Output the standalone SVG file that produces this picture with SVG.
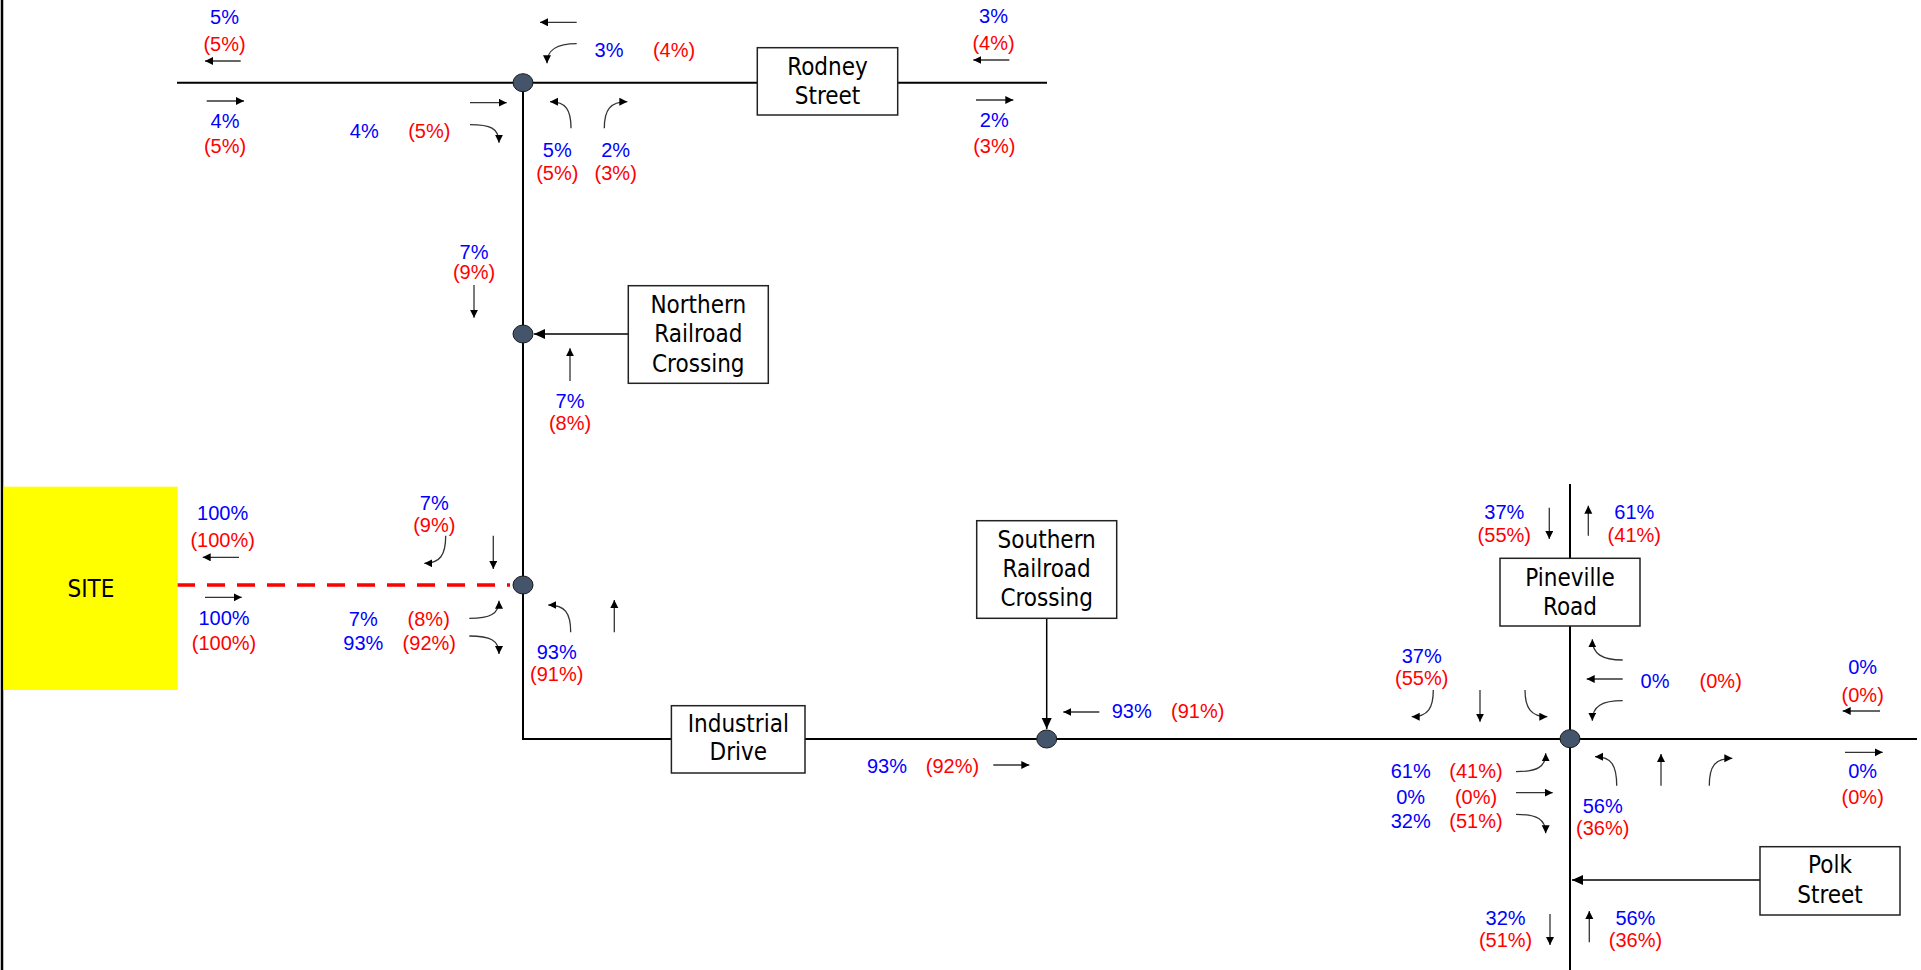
<svg xmlns="http://www.w3.org/2000/svg" width="1921" height="970" viewBox="0 0 1921 970">
<defs>
<style>
.road{stroke:#000;stroke-width:2;fill:none}
.arr{stroke:#333;stroke-width:1.3;fill:none;marker-end:url(#ah)}
.con{stroke:#000;stroke-width:1.5;fill:none;marker-end:url(#ahL)}
.b{fill:#0000FF;font-family:'Liberation Sans',Arial,sans-serif;font-size:20px;text-anchor:middle}
.r{fill:#FF0000;font-family:'Liberation Sans',Arial,sans-serif;font-size:20px;text-anchor:middle}
.box{fill:#fff;stroke:#222;stroke-width:1.5}
.bt{fill:#000;font-family:'DejaVu Sans Condensed','DejaVu Sans',sans-serif;font-stretch:condensed;font-size:24px;text-anchor:middle}
.node{fill:#44546A;stroke:#1a1a1a;stroke-width:1}
</style>
<marker id="ah" markerWidth="9" markerHeight="9" refX="8" refY="4" orient="auto" markerUnits="userSpaceOnUse"><path d="M0,0 L8,4 L0,8 z" fill="#000"/></marker>
<marker id="ahL" markerWidth="12" markerHeight="12" refX="11" refY="5" orient="auto" markerUnits="userSpaceOnUse"><path d="M0,0 L11,5 L0,10 z" fill="#000"/></marker>
</defs>
<rect x="0" y="0" width="1921" height="970" fill="#fff"/>
<line x1="2" y1="0" x2="2" y2="970" stroke="#000" stroke-width="2.5"/>

<g id="connectors">
<path class="road" d="M177,82.7 H1047"/>
<path class="road" d="M523,82.7 V739 H1917"/>
<path class="road" d="M1570,484 V970"/>
<line x1="177" y1="585" x2="510" y2="585" stroke="#FF0000" stroke-width="3.5" stroke-dasharray="18 12"/>
<path class="con" d="M628.3,334 H534"/>
<path class="con" d="M1046.7,618.3 V729"/>
<path class="con" d="M1760,880 H1572"/>
</g>

<g id="rodney-intersection">
<path class="arr" d="M240.7,61 H205"/>
<path class="arr" d="M206.7,101 H244"/>
<path class="arr" d="M470,102.7 H506.7"/>
<path class="arr" d="M470,124.7 C490,124.7 499,128 499,142.7"/>
<path class="arr" d="M576.7,22.3 H540"/>
<path class="arr" d="M576.7,43.7 C556,43.7 547,50 547,63.3"/>
<path class="arr" d="M571,128.3 C571,110 566,101.7 550,101.7"/>
<path class="arr" d="M604.3,128.3 C604.3,110 610,101.7 627.3,101.7"/>
<path class="arr" d="M1009.3,60 H973.3"/>
<path class="arr" d="M976,100 H1013.3"/>
<text class="b" x="224.5" y="24.3">5%</text><text class="r" x="224.5" y="50.7">(5%)</text>
<text class="b" x="225" y="128.3">4%</text><text class="r" x="225" y="153.3">(5%)</text>
<text class="b" x="364.3" y="138.3">4%</text><text class="r" x="429.3" y="138.3">(5%)</text>
<text class="b" x="609" y="57.3">3%</text><text class="r" x="674" y="57.3">(4%)</text>
<text class="b" x="557.3" y="156.7">5%</text><text class="r" x="557.3" y="180">(5%)</text>
<text class="b" x="615.7" y="156.7">2%</text><text class="r" x="615.7" y="180">(3%)</text>
<text class="b" x="993.5" y="22.7">3%</text><text class="r" x="993.5" y="50">(4%)</text>
<text class="b" x="994.3" y="126.7">2%</text><text class="r" x="994.3" y="153.3">(3%)</text>
<ellipse class="node" cx="523" cy="82.7" rx="10" ry="9"/>
</g>

<g id="rodney-street">
<rect class="box" x="757.3" y="47.7" width="140.4" height="67.3"/>
<text class="bt" x="827.5" y="75">Rodney</text><text class="bt" x="827.5" y="104">Street</text>
</g>

<g id="northern-intersection">
<path class="arr" d="M474,285 V317.7"/>
<path class="arr" d="M570,381 V348.3"/>
<text class="b" x="474" y="259">7%</text><text class="r" x="474" y="279.3">(9%)</text>
<text class="b" x="570" y="408.3">7%</text><text class="r" x="570" y="430">(8%)</text>
<ellipse class="node" cx="523" cy="334" rx="10" ry="9"/>
</g>

<g id="northern-railroad-crossing">
<rect class="box" x="628.3" y="285.7" width="140" height="97.6"/>
<text class="bt" x="698.3" y="312.7">Northern</text><text class="bt" x="698.3" y="342.2">Railroad</text><text class="bt" x="698.3" y="371.7">Crossing</text>
</g>

<g id="site">
<rect x="3.5" y="486.7" width="174.2" height="203.3" fill="#FFFF00"/>
<text class="bt" x="91" y="596.7">SITE</text>
</g>

<g id="site-intersection">
<path class="arr" d="M239,557.3 H202.7"/>
<path class="arr" d="M205,597.3 H241.7"/>
<path class="arr" d="M469.3,618.3 C490,618.3 499,614 499,600.7"/>
<path class="arr" d="M469.3,636 C490,636 499,640 499,654"/>
<path class="arr" d="M445.7,535.7 C445.7,555 440,563.3 424.3,563.3"/>
<path class="arr" d="M493.3,535.7 V569"/>
<path class="arr" d="M570.7,632.3 C570.7,613 565,605 548.3,605"/>
<path class="arr" d="M614.3,632.3 V600"/>
<text class="b" x="222.7" y="520">100%</text><text class="r" x="222.7" y="547.3">(100%)</text>
<text class="b" x="224" y="625">100%</text><text class="r" x="224" y="650">(100%)</text>
<text class="b" x="363.3" y="626">7%</text><text class="b" x="363.3" y="650">93%</text>
<text class="r" x="428.7" y="626">(8%)</text><text class="r" x="429.3" y="650">(92%)</text>
<text class="b" x="434.3" y="510">7%</text><text class="r" x="434.3" y="531.7">(9%)</text>
<text class="b" x="556.7" y="659.3">93%</text><text class="r" x="556.7" y="680.7">(91%)</text>
<ellipse class="node" cx="523" cy="585" rx="10" ry="9"/>
</g>

<g id="industrial-drive">
<rect class="box" x="671.4" y="705.7" width="133.6" height="67.3"/>
<text class="bt" x="738.3" y="731.7">Industrial</text><text class="bt" x="738.3" y="760">Drive</text>
</g>

<g id="southern-intersection">
<path class="arr" d="M1099.3,712 H1063.3"/>
<path class="arr" d="M993.3,765 H1029.3"/>
<text class="b" x="1131.7" y="718.3">93%</text><text class="r" x="1197.7" y="718.3">(91%)</text>
<text class="b" x="887" y="772.5">93%</text><text class="r" x="952.5" y="772.5">(92%)</text>
<ellipse class="node" cx="1046.7" cy="739" rx="10" ry="9"/>
</g>

<g id="southern-railroad-crossing">
<rect class="box" x="976.7" y="520.7" width="140" height="97.6"/>
<text class="bt" x="1046.7" y="547.7">Southern</text><text class="bt" x="1046.7" y="576.7">Railroad</text><text class="bt" x="1046.7" y="606">Crossing</text>
</g>

<g id="pineville-road">
<rect class="box" x="1500" y="558.3" width="140" height="67.7"/>
<text class="bt" x="1570" y="586">Pineville</text><text class="bt" x="1570" y="615">Road</text>
</g>

<g id="pineville-intersection">
<path class="arr" d="M1549.3,507.7 V539"/>
<path class="arr" d="M1588.3,535.7 V505.7"/>
<text class="b" x="1504.3" y="519.3">37%</text><text class="r" x="1504.3" y="541.7">(55%)</text>
<text class="b" x="1634.3" y="519.3">61%</text><text class="r" x="1634.3" y="541.7">(41%)</text>

<path class="arr" d="M1433.3,690 C1433.3,708 1428,716.7 1411.7,716.7"/>
<path class="arr" d="M1480,690 V721.7"/>
<path class="arr" d="M1525,690 C1525,708 1531,716.7 1547.3,716.7"/>
<text class="b" x="1421.7" y="662.7">37%</text><text class="r" x="1421.7" y="685">(55%)</text>

<path class="arr" d="M1622.7,660 C1602,660 1592.3,654 1592.3,639.3"/>
<path class="arr" d="M1622.7,679 H1586.7"/>
<path class="arr" d="M1622.7,700.7 C1602,700.7 1592.3,706 1592.3,720.7"/>
<text class="b" x="1655" y="688.3">0%</text><text class="r" x="1720.7" y="688.3">(0%)</text>

<path class="arr" d="M1516,771.7 C1537,771.7 1545.7,767 1545.7,753.3"/>
<path class="arr" d="M1516,792.7 H1552.7"/>
<path class="arr" d="M1516,814.3 C1537,814.3 1545.7,819 1545.7,833.3"/>
<text class="b" x="1410.7" y="778.3">61%</text><text class="r" x="1476" y="778.3">(41%)</text>
<text class="b" x="1410.7" y="804.3">0%</text><text class="r" x="1476" y="804.3">(0%)</text>
<text class="b" x="1410.7" y="828.3">32%</text><text class="r" x="1476" y="828.3">(51%)</text>

<path class="arr" d="M1616.7,785.7 C1616.7,766 1612,756.7 1595,756.7"/>
<path class="arr" d="M1661,785.7 V754"/>
<path class="arr" d="M1709.3,785.7 C1709.3,766 1715,758.3 1732.3,758.3"/>
<text class="b" x="1602.7" y="813.3">56%</text><text class="r" x="1602.7" y="835">(36%)</text>

<path class="arr" d="M1880,711 H1842.7"/>
<path class="arr" d="M1845,752.3 H1882.7"/>
<text class="b" x="1862.7" y="674">0%</text><text class="r" x="1862.7" y="701.7">(0%)</text>
<text class="b" x="1862.7" y="778.3">0%</text><text class="r" x="1862.7" y="804">(0%)</text>

<path class="arr" d="M1550,914 V945"/>
<path class="arr" d="M1589.3,942.3 V911"/>
<text class="b" x="1505.6" y="925">32%</text><text class="r" x="1505.6" y="947.3">(51%)</text>
<text class="b" x="1635.4" y="925">56%</text><text class="r" x="1635.4" y="947.3">(36%)</text>
<ellipse class="node" cx="1570" cy="738.7" rx="10" ry="9"/>
</g>

<g id="polk-street">
<rect class="box" x="1760" y="846.7" width="140" height="68.3"/>
<text class="bt" x="1830" y="873.3">Polk</text><text class="bt" x="1830" y="903.3">Street</text>
</g>
</svg>
